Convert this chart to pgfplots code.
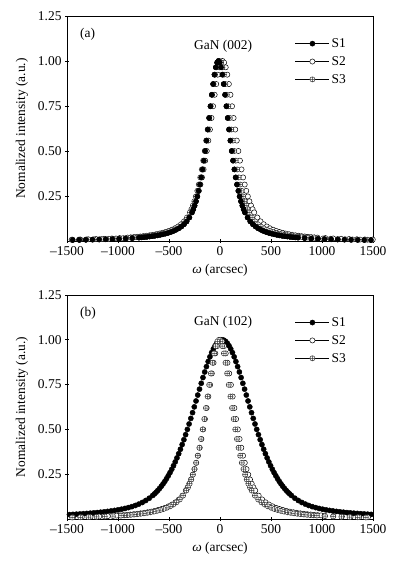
\documentclass[border=0pt]{standalone}
\usepackage{fontspec}
\setmainfont{Liberation Serif}
\usepackage{pgfplots}
\pgfplotsset{compat=1.18}
\usepackage{pgfplotstable}

% ---------- (a) GaN (002) ----------
\pgfplotstableread{
x y
-15 1.0000
-2 0.9910
11 0.9649
24 0.9241
37 0.8719
50 0.8123
63 0.7485
76 0.6834
89 0.6193
102 0.5578
115 0.5000
128 0.4464
141 0.3975
154 0.3532
167 0.3136
180 0.2785
193 0.2475
206 0.2205
219 0.1968
232 0.1764
245 0.1588
271 0.1304
297 0.1091
323 0.0930
349 0.0805
375 0.0706
401 0.0626
427 0.0558
453 0.0501
479 0.0453
505 0.0412
531 0.0376
557 0.0344
583 0.0316
609 0.0291
635 0.0269
661 0.0250
687 0.0232
713 0.0216
739 0.0202
765 0.0189
830 0.0162
895 0.0140
960 0.0122
1025 0.0108
1090 0.0096
1155 0.0085
1220 0.0077
1285 0.0069
1350 0.0063
1415 0.0057
1480 0.0053
-28 0.9910
-41 0.9649
-54 0.9241
-67 0.8719
-80 0.8123
-93 0.7485
-106 0.6834
-119 0.6193
-132 0.5578
-145 0.5000
-158 0.4464
-171 0.3975
-184 0.3532
-197 0.3136
-210 0.2785
-223 0.2475
-236 0.2205
-249 0.1968
-262 0.1764
-275 0.1588
-301 0.1304
-327 0.1091
-353 0.0930
-379 0.0805
-405 0.0706
-431 0.0626
-457 0.0558
-483 0.0501
-509 0.0453
-535 0.0412
-561 0.0376
-587 0.0344
-613 0.0316
-639 0.0291
-665 0.0269
-691 0.0250
-717 0.0232
-743 0.0216
-769 0.0202
-795 0.0189
-860 0.0162
-925 0.0140
-990 0.0122
-1055 0.0108
-1120 0.0096
-1185 0.0085
-1250 0.0077
-1315 0.0069
-1380 0.0063
-1445 0.0057
}\aSone

\pgfplotstableread{
x y
25 1.0000
40.5 0.9910
56 0.9649
71.5 0.9241
87 0.8719
102.5 0.8123
118 0.7485
133.5 0.6834
149 0.6193
164.5 0.5578
180 0.5000
195.5 0.4464
211 0.3975
226.5 0.3532
242 0.3136
257.5 0.2785
273 0.2475
288.5 0.2205
304 0.1968
319.5 0.1764
335 0.1588
366 0.1304
397 0.1091
428 0.0930
459 0.0805
490 0.0706
521 0.0626
552 0.0558
583 0.0501
614 0.0453
645 0.0412
676 0.0376
707 0.0344
738 0.0316
769 0.0291
800 0.0269
831 0.0250
862 0.0232
893 0.0216
924 0.0202
955 0.0189
1032.5 0.0162
1110 0.0140
1187.5 0.0122
1265 0.0108
1342.5 0.0096
1420 0.0085
1497.5 0.0077
9.5 0.9910
-6 0.9649
-21.5 0.9241
-37 0.8719
-52.5 0.8123
-68 0.7485
-83.5 0.6834
-99 0.6193
-114.5 0.5578
-130 0.5000
-145.5 0.4464
-161 0.3975
-176.5 0.3532
-192 0.3136
-207.5 0.2785
-223 0.2475
-238.5 0.2205
-254 0.1968
-269.5 0.1764
-285 0.1588
-316 0.1304
-347 0.1091
-378 0.0930
-409 0.0805
-440 0.0706
-471 0.0626
-502 0.0558
-533 0.0501
-564 0.0453
-595 0.0412
-626 0.0376
-657 0.0344
-688 0.0316
-719 0.0291
-750 0.0269
-781 0.0250
-812 0.0232
-843 0.0216
-874 0.0202
-905 0.0189
-982.5 0.0162
-1060 0.0140
-1137.5 0.0122
-1215 0.0108
-1292.5 0.0096
-1370 0.0085
-1447.5 0.0077
}\aStwo

\pgfplotstableread{
x y
-5 1.0000
9.5 0.9910
24 0.9649
38.5 0.9241
53 0.8719
67.5 0.8123
82 0.7485
96.5 0.6834
111 0.6193
125.5 0.5578
140 0.5000
154.5 0.4464
169 0.3975
183.5 0.3532
198 0.3136
212.5 0.2785
227 0.2475
241.5 0.2205
256 0.1968
270.5 0.1764
285 0.1588
314 0.1304
343 0.1091
372 0.0930
401 0.0805
430 0.0706
459 0.0626
488 0.0558
517 0.0501
546 0.0453
575 0.0412
604 0.0376
633 0.0344
662 0.0316
691 0.0291
720 0.0269
749 0.0250
778 0.0232
807 0.0216
836 0.0202
865 0.0189
937.5 0.0162
1010 0.0140
1082.5 0.0122
1155 0.0108
1227.5 0.0096
1300 0.0085
1372.5 0.0077
1445 0.0069
-19.5 0.9910
-34 0.9649
-48.5 0.9241
-63 0.8719
-77.5 0.8123
-92 0.7485
-106.5 0.6834
-121 0.6193
-135.5 0.5578
-150 0.5000
-164.5 0.4464
-179 0.3975
-193.5 0.3532
-208 0.3136
-222.5 0.2785
-237 0.2475
-251.5 0.2205
-266 0.1968
-280.5 0.1764
-295 0.1588
-324 0.1304
-353 0.1091
-382 0.0930
-411 0.0805
-440 0.0706
-469 0.0626
-498 0.0558
-527 0.0501
-556 0.0453
-585 0.0412
-614 0.0376
-643 0.0344
-672 0.0316
-701 0.0291
-730 0.0269
-759 0.0250
-788 0.0232
-817 0.0216
-846 0.0202
-875 0.0189
-947.5 0.0162
-1020 0.0140
-1092.5 0.0122
-1165 0.0108
-1237.5 0.0096
-1310 0.0085
-1382.5 0.0077
-1455 0.0069
}\aSthree

% ---------- (b) GaN (102) ----------
\pgfplotstableread{
x y
20 1.0000
37 0.9979
54 0.9916
71 0.9812
88 0.9671
105 0.9494
122 0.9285
139 0.9048
156 0.8785
173 0.8503
190 0.8204
207 0.7893
224 0.7572
241 0.7246
258 0.6916
275 0.6586
292 0.6257
309 0.5934
326 0.5614
343 0.5303
360 0.5000
377 0.4707
394 0.4424
411 0.4152
428 0.3892
445 0.3644
462 0.3408
479 0.3185
496 0.2974
513 0.2776
530 0.2589
547 0.2415
564 0.2253
581 0.2101
598 0.1960
615 0.1830
632 0.1708
649 0.1597
666 0.1494
683 0.1400
700 0.1313
734 0.1159
768 0.1031
802 0.0923
836 0.0832
870 0.0755
904 0.0690
938 0.0635
972 0.0588
1006 0.0546
1040 0.0510
1074 0.0478
1108 0.0449
1142 0.0424
1176 0.0399
1210 0.0378
1244 0.0358
1278 0.0341
1312 0.0324
1346 0.0309
1380 0.0294
1414 0.0281
1448 0.0268
1482 0.0257
3 0.9979
-14 0.9916
-31 0.9812
-48 0.9671
-65 0.9494
-82 0.9285
-99 0.9048
-116 0.8785
-133 0.8503
-150 0.8204
-167 0.7893
-184 0.7572
-201 0.7246
-218 0.6916
-235 0.6586
-252 0.6257
-269 0.5934
-286 0.5614
-303 0.5303
-320 0.5000
-337 0.4707
-354 0.4424
-371 0.4152
-388 0.3892
-405 0.3644
-422 0.3408
-439 0.3185
-456 0.2974
-473 0.2776
-490 0.2589
-507 0.2415
-524 0.2253
-541 0.2101
-558 0.1960
-575 0.1830
-592 0.1708
-609 0.1597
-626 0.1494
-643 0.1400
-660 0.1313
-694 0.1159
-728 0.1031
-762 0.0923
-796 0.0832
-830 0.0755
-864 0.0690
-898 0.0635
-932 0.0588
-966 0.0546
-1000 0.0510
-1034 0.0478
-1068 0.0449
-1102 0.0424
-1136 0.0399
-1170 0.0378
-1204 0.0358
-1238 0.0341
-1272 0.0324
-1306 0.0309
-1340 0.0294
-1374 0.0281
-1408 0.0268
-1442 0.0257
-1476 0.0246
}\bSone

\pgfplotstableread{
x y
5 1.0000
22 0.9910
39 0.9649
56 0.9241
73 0.8719
90 0.8123
107 0.7485
124 0.6834
141 0.6193
158 0.5578
175 0.5000
192 0.4464
209 0.3975
226 0.3532
243 0.3136
260 0.2785
277 0.2475
294 0.2205
311 0.1968
328 0.1764
345 0.1588
379 0.1304
413 0.1091
447 0.0930
481 0.0805
515 0.0706
549 0.0626
583 0.0558
617 0.0501
651 0.0453
685 0.0412
719 0.0376
753 0.0344
787 0.0316
821 0.0291
855 0.0269
889 0.0250
923 0.0232
957 0.0216
991 0.0202
1025 0.0189
1110 0.0162
1195 0.0140
1280 0.0122
1365 0.0108
1450 0.0096
-12 0.9910
-29 0.9649
-46 0.9241
-63 0.8719
-80 0.8123
-97 0.7485
-114 0.6834
-131 0.6193
-148 0.5578
-165 0.5000
-182 0.4464
-199 0.3975
-216 0.3532
-233 0.3136
-250 0.2785
-267 0.2475
-284 0.2205
-301 0.1968
-318 0.1764
-335 0.1588
-369 0.1304
-403 0.1091
-437 0.0930
-471 0.0805
-505 0.0706
-539 0.0626
-573 0.0558
-607 0.0501
-641 0.0453
-675 0.0412
-709 0.0376
-743 0.0344
-777 0.0316
-811 0.0291
-845 0.0269
-879 0.0250
-913 0.0232
-947 0.0216
-981 0.0202
-1015 0.0189
-1100 0.0162
-1185 0.0140
-1270 0.0122
-1355 0.0108
-1440 0.0096
}\bStwo

\pgfplotstableread{
x y
-10 1.0000
6 0.9910
22 0.9649
38 0.9241
54 0.8719
70 0.8123
86 0.7485
102 0.6834
118 0.6193
134 0.5578
150 0.5000
166 0.4464
182 0.3975
198 0.3532
214 0.3136
230 0.2785
246 0.2475
262 0.2205
278 0.1968
294 0.1764
310 0.1588
342 0.1304
374 0.1091
406 0.0930
438 0.0805
470 0.0706
502 0.0626
534 0.0558
566 0.0501
598 0.0453
630 0.0412
662 0.0376
694 0.0344
726 0.0316
758 0.0291
790 0.0269
822 0.0250
854 0.0232
886 0.0216
918 0.0202
950 0.0189
1030 0.0162
1110 0.0140
1190 0.0122
1270 0.0108
1350 0.0096
1430 0.0085
-26 0.9910
-42 0.9649
-58 0.9241
-74 0.8719
-90 0.8123
-106 0.7485
-122 0.6834
-138 0.6193
-154 0.5578
-170 0.5000
-186 0.4464
-202 0.3975
-218 0.3532
-234 0.3136
-250 0.2785
-266 0.2475
-282 0.2205
-298 0.1968
-314 0.1764
-330 0.1588
-362 0.1304
-394 0.1091
-426 0.0930
-458 0.0805
-490 0.0706
-522 0.0626
-554 0.0558
-586 0.0501
-618 0.0453
-650 0.0412
-682 0.0376
-714 0.0344
-746 0.0316
-778 0.0291
-810 0.0269
-842 0.0250
-874 0.0232
-906 0.0216
-938 0.0202
-970 0.0189
-1050 0.0162
-1130 0.0140
-1210 0.0122
-1290 0.0108
-1370 0.0096
-1450 0.0085
}\bSthree

\newcommand{\myfont}{\fontsize{13.5}{15}\selectfont}

\pgfplotsset{
  myaxis/.style={
    scale only axis, width=306bp,
    xmin=-1500, xmax=1500, ymin=0, ymax=1.25,
    clip mode=individual,
    xtick={-1500,-1000,-500,0,500,1000,1500},
    xticklabels={--1500,--1000,--500,0,500,1000,1500},
    ytick={0.25,0.5,0.75,1,1.25},
    yticklabels={0.25,0.50,0.75,1.00,1.25},
    tick align=center, tick pos=left, major tick length=4bp,
    axis line style={line width=0.9pt},
    every tick/.style={black, line width=0.6pt},
    ticklabel style={font=\myfont},
    label style={font=\myfont},
    xlabel={{\itshape ω} (arcsec)},
    ylabel={Nomalized intensity (a.u.)},
    xlabel style={at={(axis description cs:0.5,-0.129)}, anchor=center},
    ylabel style={at={(axis description cs:-0.147,0.5)}, anchor=center},
    legend style={draw=none, fill=none, at={(rel axis cs:0.745,0.91)}, anchor=north west,
      font=\myfont, row sep=3.5bp, inner sep=0pt},
    legend cell align=left,
  },
  sA/.style={only marks, mark=*, mark size=2.6bp, mark options={draw=black, fill=black, line width=0.4pt},
    legend image code/.code={\draw[black, line width=0.5pt] (0bp,0bp) -- (34bp,0bp); \draw[##1] plot coordinates {(17bp,0bp)};}},
  sB/.style={only marks, mark=*, mark size=2.6bp, mark options={draw=black, fill=white, line width=0.5pt},
    legend image code/.code={\draw[black, line width=0.5pt] (0bp,0bp) -- (34bp,0bp); \draw[##1] plot coordinates {(17bp,0bp)};}},
  sC/.style={only marks, mark=oplus*, mark size=2.6bp, mark options={draw=black!80, fill=white, line width=0.5pt},
    legend image code/.code={\draw[black, line width=0.5pt] (0bp,0bp) -- (34bp,0bp); \draw[##1] plot coordinates {(17bp,0bp)};}},
}

\begin{document}
\begin{tikzpicture}
\useasboundingbox (0bp,0bp) rectangle (395bp,561bp);
\begin{axis}[myaxis, height=225bp, at={(67bp,320bp)}, anchor=south west]
\addplot[sA] table {\aSone};
\addplot[sB] table {\aStwo};
\addplot[sC] table {\aSthree};
\addplot[sA, forget plot] table {\aSone};
\legend{S1,S2,S3}
\node[anchor=west, font=\myfont] at (axis cs:-1405,1.146) {(a)};
\node[font=\myfont] at (axis cs:30,1.083) {GaN (002)};
\end{axis}
\begin{axis}[myaxis, height=224bp, at={(67bp,42bp)}, anchor=south west]
\addplot[sA] table {\bSone};
\addplot[sB] table {\bStwo};
\addplot[sC] table {\bSthree};
\legend{S1,S2,S3}
\node[anchor=west, font=\myfont] at (axis cs:-1405,1.146) {(b)};
\node[font=\myfont] at (axis cs:30,1.097) {GaN (102)};
\end{axis}
\end{tikzpicture}
\end{document}
